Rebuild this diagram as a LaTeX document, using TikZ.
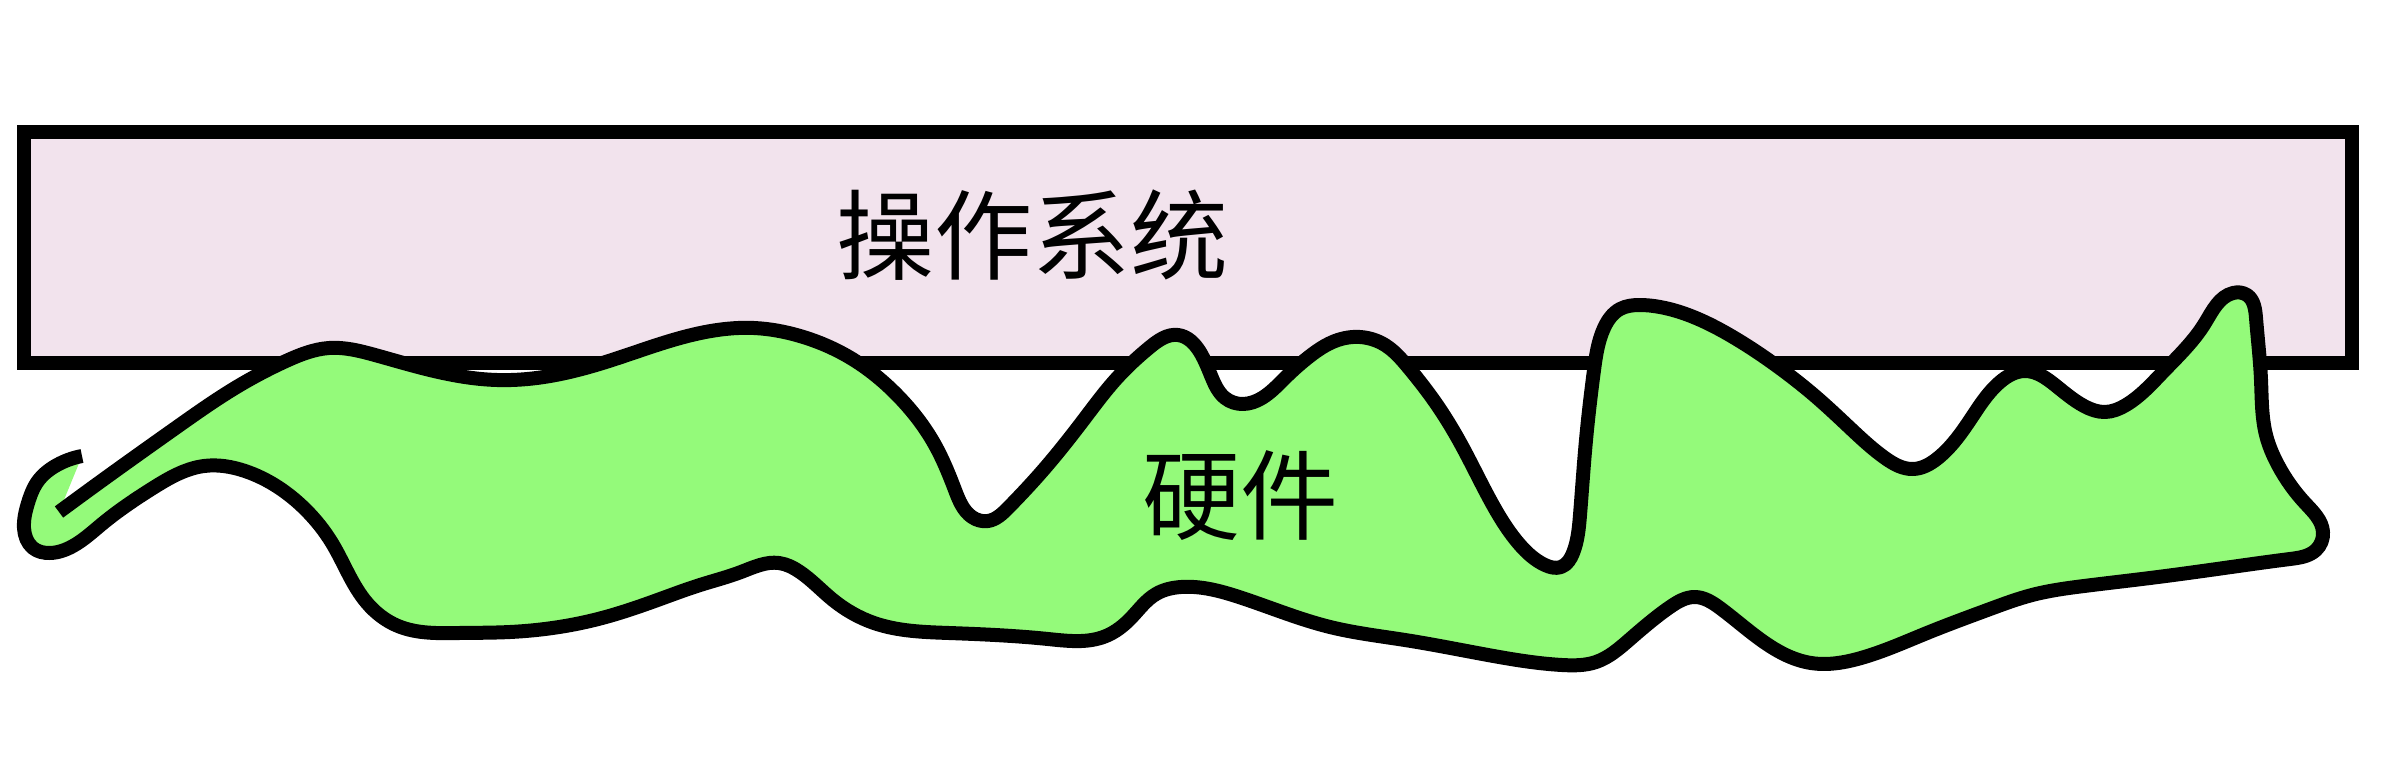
\documentclass[tikz,border=0pt]{standalone}
\usepackage{fontspec}
\usetikzlibrary{hobby}
\newfontfamily\cjk{Noto Sans CJK SC}
\definecolor{ospink}{RGB}{242,227,237}
\definecolor{hwgreen}{RGB}{148,250,122}
\tikzset{
  layerbox/.style={draw=black, line width=14pt, fill=ospink},
  blob/.style={draw=black, line width=14pt, fill=hwgreen, line join=round},
  bigtext/.style={font=\cjk\fontsize{98}{98}\selectfont, inner sep=0pt}
}
\begin{document}
\begin{tikzpicture}[x=1pt,y=-1pt]
\useasboundingbox (0,0) rectangle (2382,760);
\fill[white] (0,0) rectangle (2382,760);
\draw[layerbox] (24,132) rectangle (2351.5,363);
\filldraw[blob] plot[hobby] coordinates {
(59,512) (118,469) (177,427) (235,388) (286,361) (329,348) (375,355)
(430,370) (497,380) (550,376)
(612,360) (673,340) (754,328) (800,336) (849,357) (900,398) (935,445)
(955,490) (972,517) (988,521) (1008,508) (1045,468) (1085,418)
(1117,378) (1150,347) (1178,335) (1200,352) (1212,378) (1225,398)
(1243,404) (1262,398) (1285,378) (1310,356) (1335,341) (1360,337)
(1385,345) (1408,367) (1435,402) (1462,446) (1494,507) (1520,545)
(1545,565) (1561,567) (1573,553) (1580,515) (1586,440) (1594,370)
(1604,328) (1620,309) (1640,305) (1660,307) (1691,316) (1733,337)
(1785,372) (1815,396) (1850,428) (1885,458) (1913,469) (1938,458)
(1970,420) (2000,382) (2025,371) (2055,385) (2084,406) (2105,412)
(2126,405) (2163,372) (2205,323) (2233,293) (2247,295) (2256,318)
(2261,380) (2266,435) (2278,465) (2305,503) (2323,532) (2316,550)
(2290,559) (2217,569) (2150,578) (2084,586) (2032,595) (1990,609)
(1927,633) (1861,658) (1811,663) (1761,640) (1720,608) (1695,597)
(1670,607) (1629,640) (1596,662) (1562,665) (1488,655) (1405,640)
(1330,627) (1239,597) (1181,587) (1156,594) (1131,618) (1106,636)
(1048,639) (949,633) (874,623) (833,600) (800,572) (779,563) (741,572)
(700,585) (663,598) (602,618) (510,632) (459,633) (398,626) (367,603)
(332,543) (306,510) (245,471) (204,466) (153,488) (102,524) (73,546)
(50,553) (33,548) (24,528) (28,503) (38,481) (57,465) (82,456)};
\node[bigtext] (os) at (1032,235) {操作系统};
\node[bigtext] (hw) at (1240,496) {硬件};
\end{tikzpicture}
\end{document}
